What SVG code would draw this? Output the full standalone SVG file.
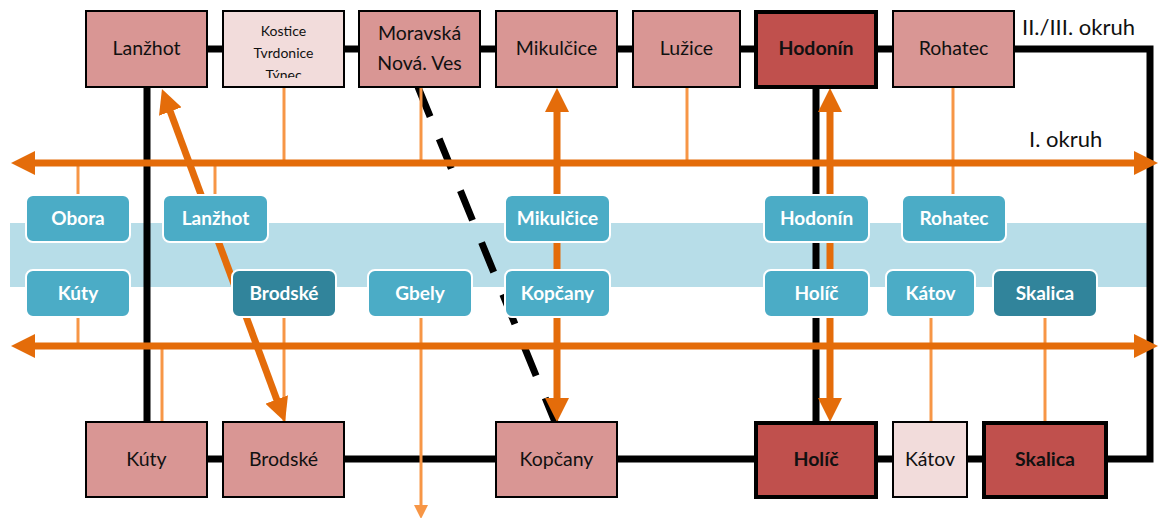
<svg xmlns="http://www.w3.org/2000/svg" width="1158" height="518" viewBox="0 0 1158 518">
<style>
.pink{fill:#d99694;stroke:#000;stroke-width:2}
.light{fill:#f2dcdb;stroke:#000;stroke-width:2}
.dark{fill:#c0504d;stroke:#000;stroke-width:4}
.ptxt{font-family:Lato,"Open Sans",sans-serif;font-size:19.5px;fill:#111;text-anchor:middle}
.btxt{font-family:Lato,"Open Sans",sans-serif;font-size:19px;font-weight:bold;fill:#fff;text-anchor:middle}
.blue{fill:#4bacc6;stroke:#fff;stroke-width:2}
.blued{fill:#31849b;stroke:#fff;stroke-width:2}
.blk{stroke:#000;stroke-width:7;fill:none}
.thin{stroke:#f79646;stroke-width:3;fill:none}
.thick{stroke:#e46c0a;stroke-width:7;fill:none;marker-start:url(#ah);marker-end:url(#ah)}
.lbl{font-family:Lato,"Open Sans",sans-serif;font-size:22px;fill:#111}
</style>
<defs>
<marker id="ah" markerUnits="userSpaceOnUse" viewBox="0 0 24 24" markerWidth="24" markerHeight="24" refX="6" refY="12" orient="auto-start-reverse">
<path d="M0,0 L24,12 L0,24 z" fill="#e46c0a"/>
</marker>
<marker id="ahs" markerUnits="userSpaceOnUse" viewBox="0 0 14 14" markerWidth="14" markerHeight="14" refX="3" refY="7" orient="auto">
<path d="M0,0 L14,7 L0,14 z" fill="#f79646"/>
</marker>
<clipPath id="kclip"><rect x="223" y="11" width="121" height="67"/></clipPath>
</defs>
<rect x="10" y="223" width="1140" height="64" fill="#b7dde8"/>
<g id="connectors">
<line class="blk" x1="207" y1="49" x2="893" y2="49"/>
<path class="blk" d="M1014,49 H1150 V459 H1107"/>
<line class="blk" x1="207" y1="459" x2="983" y2="459"/>
<line class="blk" x1="147" y1="87" x2="147" y2="422"/>
<line class="blk" x1="816" y1="87" x2="816" y2="422"/>
<line stroke="#000" stroke-width="7" stroke-dasharray="32 24" x1="418" y1="87" x2="555" y2="422"/>
<line class="thin" x1="284" y1="87" x2="284" y2="163"/>
<line class="thin" x1="421" y1="87" x2="421" y2="163"/>
<line class="thin" x1="687" y1="87" x2="687" y2="163"/>
<line class="thin" x1="953" y1="87" x2="953" y2="196"/>
<line class="thin" x1="78" y1="163" x2="78" y2="196"/>
<line class="thin" x1="215" y1="163" x2="215" y2="196"/>
<line class="thin" x1="78" y1="317" x2="78" y2="346"/>
<line class="thin" x1="162" y1="346" x2="162" y2="422"/>
<line class="thin" x1="284" y1="317" x2="284" y2="422"/>
<line class="thin" x1="931" y1="317" x2="931" y2="422"/>
<line class="thin" x1="1045" y1="317" x2="1045" y2="422"/>
<line class="thin" x1="421" y1="317" x2="421" y2="508" marker-end="url(#ahs)"/>
<line class="thick" x1="29" y1="163" x2="1140" y2="163"/>
<line class="thick" x1="29" y1="346" x2="1140" y2="346"/>
<line class="thick" x1="557" y1="106" x2="557" y2="404"/>
<line class="thick" x1="830" y1="106" x2="830" y2="404"/>
<line class="thick" x1="168.2" y1="105.9" x2="278.8" y2="405.1"/>
</g>
<g id="n-lanzhot"><rect class="pink" x="86" y="11" width="121" height="76"/><text class="ptxt" x="146.5" y="55">Lanžhot</text></g>
<g id="n-kostice"><rect class="light" x="223" y="11" width="121" height="76"/>
<g clip-path="url(#kclip)"><text class="ptxt" style="font-size:14px" x="283.5" y="36">Kostice</text><text class="ptxt" style="font-size:14px" x="283.5" y="58">Tvrdonice</text><text class="ptxt" style="font-size:14px" x="283.5" y="80">Týnec</text></g></g>
<g id="n-moravska"><rect class="pink" x="359" y="11" width="121" height="76"/><text class="ptxt" x="419.5" y="40">Moravská</text><text class="ptxt" x="419.5" y="70">Nová. Ves</text></g>
<g id="n-mikulcice"><rect class="pink" x="496" y="11" width="121" height="76"/><text class="ptxt" x="556.5" y="55">Mikulčice</text></g>
<g id="n-luzice"><rect class="pink" x="633" y="11" width="107" height="76"/><text class="ptxt" x="686.5" y="55">Lužice</text></g>
<g id="n-hodonin"><rect class="dark" x="756" y="12" width="120" height="75"/><text class="ptxt" style="font-weight:bold" x="816" y="55">Hodonín</text></g>
<g id="n-rohatec"><rect class="pink" x="893" y="11" width="121" height="76"/><text class="ptxt" x="953.5" y="55">Rohatec</text></g>
<g id="n-kuty"><rect class="pink" x="86" y="422" width="121" height="75"/><text class="ptxt" x="146.5" y="466">Kúty</text></g>
<g id="n-brodske"><rect class="pink" x="223" y="422" width="121" height="75"/><text class="ptxt" x="283.5" y="466">Brodské</text></g>
<g id="n-kopcany"><rect class="pink" x="496" y="422" width="121" height="75"/><text class="ptxt" x="556.5" y="466">Kopčany</text></g>
<g id="n-holic"><rect class="dark" x="756" y="423" width="120" height="74"/><text class="ptxt" style="font-weight:bold" x="816" y="466">Holíč</text></g>
<g id="n-katov"><rect class="light" x="893" y="422" width="74" height="75"/><text class="ptxt" x="930" y="466">Kátov</text></g>
<g id="n-skalica"><rect class="dark" x="984" y="423" width="122" height="74"/><text class="ptxt" style="font-weight:bold" x="1045" y="466">Skalica</text></g>
<g id="b-obora"><rect class="blue" x="26" y="195" width="104" height="47" rx="7"/><text class="btxt" x="78" y="225">Obora</text></g>
<g id="b-lanzhot"><rect class="blue" x="163" y="195" width="105" height="47" rx="7"/><text class="btxt" x="215.5" y="225">Lanžhot</text></g>
<g id="b-mikulcice"><rect class="blue" x="505" y="195" width="105" height="47" rx="7"/><text class="btxt" x="557.5" y="225">Mikulčice</text></g>
<g id="b-hodonin"><rect class="blue" x="764" y="195" width="105" height="47" rx="7"/><text class="btxt" x="816.5" y="225">Hodonín</text></g>
<g id="b-rohatec"><rect class="blue" x="902" y="195" width="104" height="47" rx="7"/><text class="btxt" x="954" y="225">Rohatec</text></g>
<g id="b-kuty"><rect class="blue" x="26" y="270" width="104" height="47" rx="7"/><text class="btxt" x="78" y="300">Kúty</text></g>
<g id="b-brodske"><rect class="blued" x="232" y="270" width="104" height="47" rx="7"/><text class="btxt" x="284" y="300">Brodské</text></g>
<g id="b-gbely"><rect class="blue" x="368" y="270" width="104" height="47" rx="7"/><text class="btxt" x="420" y="300">Gbely</text></g>
<g id="b-kopcany"><rect class="blue" x="505" y="270" width="105" height="47" rx="7"/><text class="btxt" x="557.5" y="300">Kopčany</text></g>
<g id="b-holic"><rect class="blue" x="764" y="270" width="105" height="47" rx="7"/><text class="btxt" x="816.5" y="300">Holíč</text></g>
<g id="b-katov"><rect class="blue" x="886" y="270" width="89" height="47" rx="7"/><text class="btxt" x="930.5" y="300">Kátov</text></g>
<g id="b-skalica"><rect class="blued" x="993" y="270" width="104" height="47" rx="7"/><text class="btxt" x="1045" y="300">Skalica</text></g>
<text class="lbl" x="1022" y="35">II./III. okruh</text>
<text class="lbl" x="1029" y="147">I. okruh</text>
</svg>
